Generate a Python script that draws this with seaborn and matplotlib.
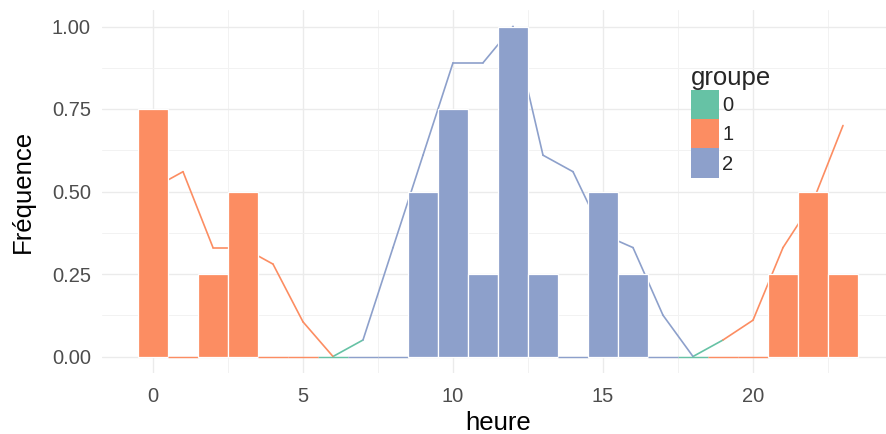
import numpy as np
import pandas as pd
import matplotlib
matplotlib.use("Agg")
import matplotlib.pyplot as plt
import seaborn as sns
from matplotlib.ticker import MultipleLocator, FixedLocator

# ---- data ----
heures = list(range(24))
groupes = ["1", "1", "1", "1", "1", "1", "0", "2", "2", "2", "2", "2",
           "2", "2", "2", "2", "2", "2", "0", "1", "1", "1", "1", "1"]
frequence = [0.75, 0.0, 0.25, 0.5, 0.0, 0.0, 0.0, 0.0, 0.0, 0.5, 0.75, 0.25,
             1.0, 0.25, 0.0, 0.5, 0.25, 0.0, 0.0, 0.0, 0.0, 0.25, 0.5, 0.25]
lissage = [0.51, 0.56, 0.33, 0.33, 0.28, 0.105, 0.0, 0.05, 0.33, 0.61, 0.89, 0.89,
           1.0, 0.61, 0.56, 0.37, 0.33, 0.125, 0.0, 0.05, 0.11, 0.33, 0.47, 0.70]
groupe_levels = ["0", "1", "2"]
palette = {"0": "#66C2A5", "1": "#FC8D62", "2": "#8DA0CB"}
x_ticks = [0, 5, 10, 15, 20]
y_ticks = [0.0, 0.25, 0.5, 0.75, 1.0]

df = pd.DataFrame({"heure": heures, "groupe": groupes, "freq": frequence})

# line segments, each coloured by the group of its starting hour
seg_rows = []
for i in range(len(heures) - 1):
    for j in (i, i + 1):
        seg_rows.append({"seg": i, "heure": heures[j], "val": lissage[j], "groupe": groupes[i]})
segdf = pd.DataFrame(seg_rows)

sns.set_theme(style="white")
plt.rcParams["font.family"] = ["Liberation Sans", "DejaVu Sans"]

fig = plt.figure(figsize=(8.87, 4.34), dpi=100)
ax = fig.add_axes([102 / 887, (434 - 373) / 434, (894 - 102) / 887, (373 - 10) / 434])

sns.lineplot(data=segdf, x="heure", y="val", units="seg", hue="groupe", estimator=None,
             palette=palette, hue_order=groupe_levels, legend=False, lw=1.2, ax=ax, zorder=2)

sns.barplot(data=df, x="heure", y="freq", hue="groupe", hue_order=groupe_levels,
            palette=palette, native_scale=True, dodge=False, width=1.0, saturation=1,
            edgecolor="white", linewidth=0.9, ax=ax, zorder=3)

for p in ax.patches:
    if abs(p.get_height()) < 1e-9:
        p.set_edgecolor(p.get_facecolor())
        p.set_linewidth(1.0)

ax.set_xlim(-1.7, 24.7)
ax.set_ylim(-0.05, 1.05)
ax.xaxis.set_major_locator(FixedLocator(x_ticks))
ax.yaxis.set_major_locator(FixedLocator(y_ticks))
ax.xaxis.set_minor_locator(MultipleLocator(2.5))
ax.yaxis.set_minor_locator(MultipleLocator(0.125))
ax.set_xticklabels([str(t) for t in x_ticks])
ax.set_yticklabels([f"{t:.2f}" for t in y_ticks])
ax.grid(True, which="major", color="#EBEBEB", lw=1.0, zorder=0)
ax.grid(True, which="minor", color="#F2F2F2", lw=0.7, zorder=0)
ax.set_axisbelow(True)
for s in ax.spines.values():
    s.set_visible(False)
ax.tick_params(axis="both", which="both", length=0, labelsize=14.5, colors="#4D4D4D")
ax.tick_params(axis="x", pad=10)
ax.tick_params(axis="y", pad=8)
ax.set_xlabel("heure", fontsize=18.5, color="black", labelpad=4)
ax.set_ylabel("Fréquence", fontsize=18.5, color="black", labelpad=12.5)

sns.move_legend(ax, loc="upper left", bbox_to_anchor=(0.744, 0.846), frameon=False,
                title="groupe", fontsize=14.5, title_fontsize=18.5, handlelength=1.39,
                handleheight=1.86, labelspacing=0, handletextpad=0.15, borderpad=0,
                borderaxespad=0, alignment="left")
leg = ax.get_legend()
for h in leg.legend_handles:
    h.set_edgecolor("none")

fig.savefig("out.png", dpi=100)
